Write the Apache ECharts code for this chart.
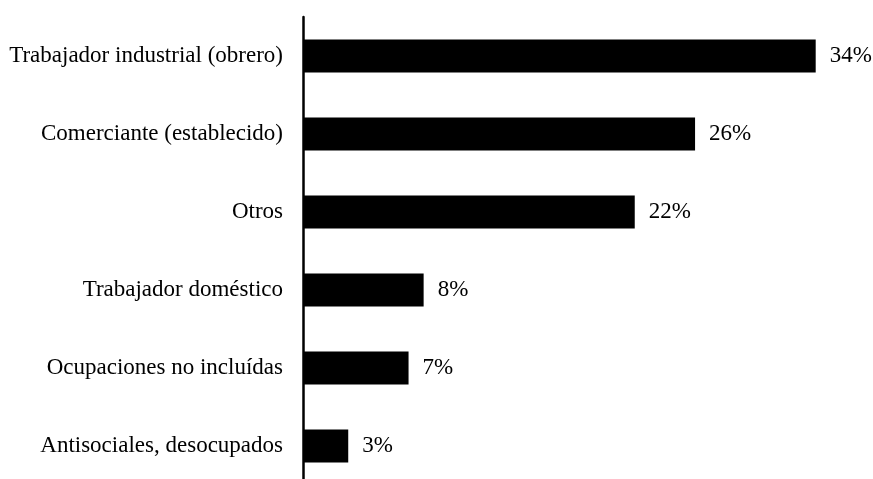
<!DOCTYPE html>
<html>
<head>
<meta charset="utf-8">
<script src="https://cdn.jsdelivr.net/npm/echarts@6/dist/echarts.min.js"></script>
<style>
  html, body { margin: 0; padding: 0; background: #fff; }
  #chart { width: 873px; height: 479px; }
</style>
</head>
<body>
<div id="chart"></div>
<script>
const categories = [
  'Trabajador industrial (obrero)',
  'Comerciante (establecido)',
  'Otros',
  'Trabajador doméstico',
  'Ocupaciones no incluídas',
  'Antisociales, desocupados'
]
const shares = [34, 26, 22, 8, 7, 3]

const font = '"Liberation Serif", "Times New Roman", serif'
const chart = echarts.init(document.getElementById('chart'))
chart.setOption({
  animation: false,
  grid: {
    left: 303,
    right: 0,
    top: 17,
    height: 468,
    outerBoundsMode: 'none'
  },
  xAxis: {
    type: 'value',
    min: 0,
    max: 37.8,
    show: false
  },
  yAxis: {
    type: 'category',
    data: categories,
    inverse: true,
    axisLine: { show: true, lineStyle: { color: '#000', width: 2.5 } },
    axisTick: { show: false },
    axisLabel: {
      color: '#000',
      fontFamily: font,
      fontSize: 23,
      margin: 20
    }
  },
  series: [{
    type: 'bar',
    data: shares,
    barWidth: 33,
    itemStyle: { color: '#000' },
    label: {
      show: true,
      position: 'right',
      distance: 14,
      formatter: '{c}%',
      color: '#000',
      fontFamily: font,
      fontSize: 23
    }
  }]
})
</script>
</body>
</html>
